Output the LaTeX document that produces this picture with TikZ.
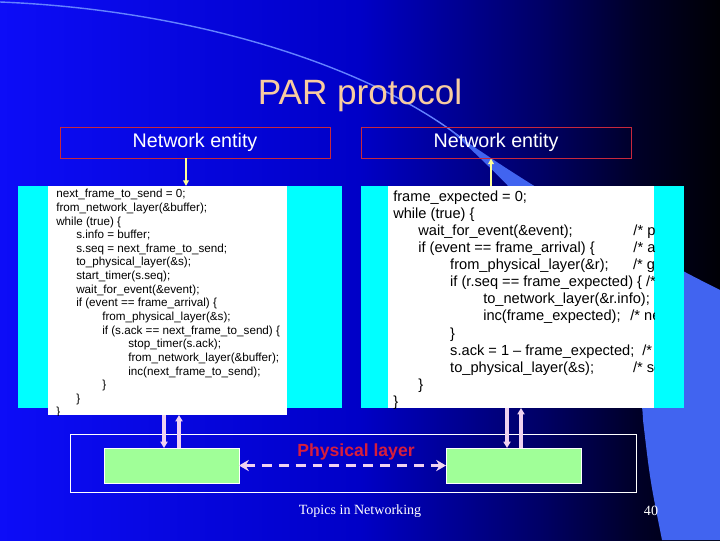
\documentclass[tikz,border=0pt]{standalone}
\usepackage{fontspec}
\setmainfont{Liberation Sans}
\newfontfamily\footerfont{Liberation Serif}
\usetikzlibrary{arrows.meta}

\definecolor{titlepeach}{RGB}{248,204,160}
\definecolor{entred}{RGB}{200,40,60}
\definecolor{labelred}{RGB}{216,30,60}
\definecolor{panelcyan}{RGB}{0,255,255}
\definecolor{phygreen}{RGB}{160,255,152}
\definecolor{linkpink}{RGB}{240,210,240}
\definecolor{callyellow}{RGB}{255,255,150}
\definecolor{wedgeblue}{RGB}{65,100,240}
\definecolor{arcblue}{RGB}{100,130,255}

\pgfdeclarehorizontalshading{slidebg}{100bp}{rgb(0bp)=(0.05,0.05,0.97); rgb(25bp)=(0.05,0.05,0.97); rgb(50bp)=(0,0,0.78); rgb(62.5bp)=(0,0,0.4); rgb(69.4bp)=(0,0,0.15); rgb(75bp)=(0,0,0.02); rgb(100bp)=(0,0,0.02)}

\def\pxu{0.025cm}
\newcommand\codeind[1]{\hspace*{#1pt}}
\newcommand\leftcodefont{\fontsize{8.3}{9.7}\selectfont}
\newcommand\rightcodefont{\fontsize{10.4}{12.1}\selectfont}

\begin{document}
\begin{tikzpicture}[
    x=0.025cm, y=-0.025cm,
    title/.style={text=titlepeach, font=\fontsize{25}{28}\selectfont},
    entity/.style={
        rectangle,
        draw=entred,
        line width=0.7pt,
        text=white,
        font=\fontsize{14}{16}\selectfont,
        minimum width=270*\pxu,
        minimum height=31*\pxu,
        inner sep=0pt
    },
    panel/.style={rectangle, fill=panelcyan, inner sep=0pt, outer sep=0pt},
    codebox/.style={rectangle, fill=white, inner sep=0pt, outer sep=0pt},
    code/.style={anchor=north west, align=left, inner sep=0pt, text=black},
    phyframe/.style={
        rectangle,
        draw=white,
        line width=0.7pt,
        minimum width=566*\pxu,
        minimum height=58*\pxu,
        inner sep=0pt
    },
    phybox/.style={
        rectangle,
        draw=white,
        line width=0.6pt,
        fill=phygreen,
        minimum width=135*\pxu,
        minimum height=35*\pxu,
        inner sep=0pt,
        outer sep=0pt
    },
    phylabel/.style={text=labelred, font=\bfseries\fontsize{12.5}{14}\selectfont},
    footer/.style={text=white, font=\footerfont\fontsize{10}{12}\selectfont},
    callarrow/.style={-{Triangle[length=4pt,width=4pt]}, line width=1pt, draw=callyellow, fill=callyellow},
    linkarrow/.style={-{Triangle[length=4.5pt,width=5pt]}, line width=2.2pt, draw=linkpink},
    dasharrow/.style={{Stealth[length=7pt,width=8pt]}-{Stealth[length=7pt,width=8pt]}, line width=2.2pt, draw=linkpink, dash pattern=on 7pt off 5pt}
]
\useasboundingbox (0,0) rectangle (720,540);

% =========================================================
% Slide background
% =========================================================
\shade[shading=slidebg] (0,0) rectangle (720,540);
\draw[arcblue, line width=1pt] (0,2) .. controls (200,10) and (380,70) .. (470,145);
\fill[wedgeblue] (450,130) .. controls (560,230) and (640,330) .. (643,420)
    .. controls (650,480) .. (662,540) -- (720,540) -- (720,290)
    .. controls (620,240) and (520,180) .. (450,130);

% =========================================================
% Title and network entities
% =========================================================
\node[title] (title) at (360,95) {PAR protocol};
\node[entity] (ne1) at (195,142.5) {Network entity};
\node[entity] (ne2) at (496,142.5) {Network entity};

% =========================================================
% Code panels
% =========================================================
\node[panel, minimum width=324*\pxu, minimum height=222*\pxu] (panelL) at (180,297) {};
\node[codebox, minimum width=239*\pxu, minimum height=229*\pxu] (boxL) at (167.5,300.5) {};
\node[panel, minimum width=323*\pxu, minimum height=222*\pxu] (panelR) at (522.5,297) {};
\node[codebox, minimum width=266*\pxu, minimum height=222*\pxu] (boxR) at (521,297) {};

% Sender
\begin{scope}
\clip (boxL.south west) rectangle (boxL.north east);
\node[code, font=\leftcodefont] (codeL) at (56,189) {%
next\_frame\_to\_send = 0;\\
from\_network\_layer(\&buffer);\\
while (true) \{\\
\codeind{14.2}s.info = buffer;\\
\codeind{14.2}s.seq = next\_frame\_to\_send;\\
\codeind{14.2}to\_physical\_layer(\&s);\\
\codeind{14.2}start\_timer(s.seq);\\
\codeind{14.2}wait\_for\_event(\&event);\\
\codeind{14.2}if (event == frame\_arrival) \{\\
\codeind{32.7}from\_physical\_layer(\&s);\\
\codeind{32.7}if (s.ack == next\_frame\_to\_send) \{\\
\codeind{51.2}stop\_timer(s.ack);\\
\codeind{51.2}from\_network\_layer(\&buffer);\\
\codeind{51.2}inc(next\_frame\_to\_send);\\
\codeind{32.7}\}\\
\codeind{14.2}\}\\
\}};
\end{scope}

% Receiver
\begin{scope}
\clip (boxR.south west) rectangle (boxR.north east);
\node[code, font=\rightcodefont] (codeR) at (393,191) {%
frame\_expected = 0;\\
while (true) \{\\
\codeind{17.8}\makebox[153pt][l]{wait\_for\_event(\&event);}/* po\\
\codeind{17.8}\makebox[153pt][l]{if (event == frame\_arrival) \{}/* a\\
\codeind{40.5}\makebox[130pt][l]{from\_physical\_layer(\&r);}/* go\\
\codeind{40.5}if (r.seq == frame\_expected) \{ /*\\
\codeind{64}to\_network\_layer(\&r.info);\\
\codeind{64}\makebox[104.6pt][l]{inc(frame\_expected);}/* ne\\
\codeind{40.5}\}\\
\codeind{40.5}\makebox[136.6pt][l]{s.ack = 1 – frame\_expected;}/*\\
\codeind{40.5}\makebox[130pt][l]{to\_physical\_layer(\&s);}/* se\\
\codeind{17.8}\}\\
\}};
\end{scope}

% Calls between entities and code
\coordinate (sendL) at ([xshift=-9*\pxu]ne1.south);
\draw[callarrow] (sendL) -- (sendL |- panelL.north);
\coordinate (recvR) at ([xshift=-5*\pxu]ne2.south);
\draw[callarrow] (recvR |- panelR.north) -- (recvR);

% =========================================================
% Physical layer
% =========================================================
\node[phyframe] (phyframe) at (353,463) {};
\node[phybox] (phyL) at (171.5,465.5) {};
\node[phybox] (phyR) at (513.5,465.5) {};
\node[phylabel] (phylabel) at (356,452) {Physical layer};

\coordinate (downL) at ([xshift=-7.5*\pxu]phyL.north);
\coordinate (upL) at ([xshift=7.5*\pxu]phyL.north);
\draw[linkarrow] (downL |- boxL.south) -- (downL);
\draw[linkarrow] (upL) -- (upL |- boxL.south);

\coordinate (downR) at ([xshift=-6.5*\pxu]phyR.north);
\coordinate (upR) at ([xshift=7.5*\pxu]phyR.north);
\draw[linkarrow] (downR |- boxR.south) -- (downR);
\draw[linkarrow] (upR) -- (upR |- boxR.south);

\draw[dasharrow] (phyL.east) -- (phyR.west);

% Footer
\node[footer] (footer) at (360,511) {Topics in Networking};
\node[footer] (pagenum) at (651,511) {40};

\end{tikzpicture}
\end{document}
